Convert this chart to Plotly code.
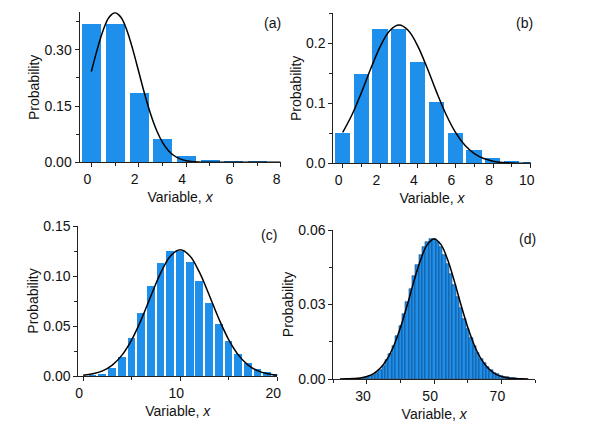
import plotly.graph_objects as go
from plotly.subplots import make_subplots

# ---------------- data ----------------
# (a)
a_k = [0, 1, 2, 3, 4, 5, 6, 7]
a_p = [0.368, 0.368, 0.184, 0.061, 0.015, 0.003, 0.0005, 0.0001]
a_cx = [0, 0.25, 0.5, 0.75, 1, 1.25, 1.5, 1.75, 2, 2.25, 2.5, 2.75, 3, 3.25, 3.5, 3.75, 4, 4.5, 5, 6, 7, 8]
a_cy = [0.2420, 0.3011, 0.3521, 0.3867, 0.3989, 0.3867, 0.3521, 0.3011, 0.2420, 0.1826, 0.1295,
        0.0863, 0.0540, 0.0317, 0.0175, 0.0091, 0.0044, 0.0009, 0.0001, 0, 0, 0]

# (b)
b_k = [0, 1, 2, 3, 4, 5, 6, 7, 8, 9, 10]
b_p = [0.050, 0.149, 0.224, 0.224, 0.168, 0.101, 0.050, 0.022, 0.008, 0.003, 0.001]
b_cx = [0, 0.5, 1, 1.5, 2, 2.5, 3, 3.5, 4, 4.5, 5, 5.5, 6, 6.5, 7, 7.5, 8, 8.5, 9, 9.5, 10]
b_cy = [0.0514, 0.0813, 0.1182, 0.1583, 0.1950, 0.2209, 0.2303, 0.2209, 0.1950, 0.1583, 0.1182,
        0.0813, 0.0514, 0.0299, 0.0160, 0.0079, 0.0036, 0.0015, 0.0006, 0.0002, 0.0001]

# (c)
c_k = list(range(0, 21))
c_p = [0.0000, 0.0005, 0.0023, 0.0076, 0.0189, 0.0378, 0.0631, 0.0901, 0.1126, 0.1251, 0.1251,
       0.1137, 0.0948, 0.0729, 0.0521, 0.0347, 0.0217, 0.0128, 0.0071, 0.0037, 0.0019]
c_cx = list(range(0, 21))
c_cy = [0.00085, 0.0022, 0.0051, 0.0109, 0.0209, 0.0362, 0.0567, 0.0805, 0.1033, 0.1200, 0.1262,
        0.1200, 0.1033, 0.0805, 0.0567, 0.0362, 0.0209, 0.0109, 0.0051, 0.0022, 0.00085]

# (d)
d_k = list(range(26, 76))
d_p = [0.0001, 0.0001, 0.0002, 0.0004, 0.0007, 0.0011, 0.0017, 0.0026, 0.0038, 0.0054,
       0.0076, 0.0102, 0.0134, 0.0172, 0.0215, 0.0262, 0.0312, 0.0363, 0.0413, 0.0458,
       0.0498, 0.0530, 0.0552, 0.0563, 0.0563, 0.0552, 0.0531, 0.0501, 0.0464, 0.0422,
       0.0377, 0.0330, 0.0285, 0.0241, 0.0201, 0.0165, 0.0133, 0.0106, 0.0082, 0.0063,
       0.0048, 0.0036, 0.0026, 0.0019, 0.0014, 0.0010, 0.0007, 0.0005, 0.0003, 0.0002]
d_cx = [22, 24, 26, 28, 30, 32, 34, 36, 38, 40, 42, 44, 46, 48, 50,
        52, 54, 56, 58, 60, 62, 64, 66, 68, 70, 72, 74, 76, 78]
d_cy = [0.0000, 0.0001, 0.0002, 0.0004, 0.0010, 0.0022, 0.0044, 0.0080, 0.0134, 0.0208, 0.0298,
        0.0394, 0.0481, 0.0542, 0.0564, 0.0542, 0.0481, 0.0394, 0.0298, 0.0208, 0.0134, 0.0080,
        0.0044, 0.0022, 0.0010, 0.0004, 0.0002, 0.0001, 0.0000]

panel_labels = ["(a)", "(b)", "(c)", "(d)"]

# ---------------- figure ----------------
BLUE = "#1E8FEA"
FONT = "Arial, Liberation Sans, Helvetica, sans-serif"
AX = "#222222"

fig = make_subplots(rows=2, cols=2)

panels = [
    (a_k, a_p, a_cx, a_cy, 1, 1, 0.8, 0),
    (b_k, b_p, b_cx, b_cy, 1, 2, 0.8, 0),
    (c_k, c_p, c_cx, c_cy, 2, 1, 0.8, 0),
    (d_k, d_p, d_cx, d_cy, 2, 2, 1.0, 0.6),
]
for k, p, cx, cy, r, c, w, lw in panels:
    fig.add_trace(go.Bar(x=k, y=p, width=w, marker=dict(color=BLUE,
                         line=dict(color="#14467a", width=lw))), row=r, col=c)
    fig.add_trace(go.Scatter(x=cx, y=cy, mode="lines",
                             line=dict(color="black", width=1.5, shape="spline")),
                  row=r, col=c)

W, H = 592, 427
def dom(p0, p1, size):
    return [p0 / size, p1 / size]

boxes = {
    1: dict(x=(79.5, 280.7), y=(12.3, 162.3)),
    2: dict(x=(333.3, 530.7), y=(13.3, 163.3)),
    3: dict(x=(78.3, 277.3), y=(226, 376)),
    4: dict(x=(333.3, 535), y=(230, 379)),
}
xcfg = {
    1: dict(range=[-0.5, 8], tick0=0, dtick=2, minor=1),
    2: dict(range=[-0.5, 10], tick0=0, dtick=2, minor=1),
    3: dict(range=[-0.5, 20], tick0=0, dtick=10, minor=5),
    4: dict(range=[20, 80], tick0=30, dtick=20, minor=10),
}
ycfg = {
    1: dict(range=[0, 0.4], dtick=0.15, minor=0.075, fmt=".2f"),
    2: dict(range=[0, 0.25], dtick=0.1, minor=0.05, fmt=".1f"),
    3: dict(range=[0, 0.15], dtick=0.05, minor=0.025, fmt=".2f"),
    4: dict(range=[0, 0.06], dtick=0.03, minor=0.015, fmt=".2f"),
}

for i in range(1, 5):
    b = boxes[i]
    xs = "xaxis" if i == 1 else f"xaxis{i}"
    ys = "yaxis" if i == 1 else f"yaxis{i}"
    xc, yc = xcfg[i], ycfg[i]
    fig.layout[xs].update(
        domain=dom(b["x"][0], b["x"][1], W), automargin=False,
        range=xc["range"], tick0=xc["tick0"], dtick=xc["dtick"],
        showgrid=False, zeroline=False, showline=True, linecolor=AX, linewidth=1,
        ticks="outside", ticklen=4, tickcolor=AX, tickwidth=1,
        minor=dict(ticks="outside", ticklen=3, tickcolor=AX, dtick=xc["minor"], tick0=0, showgrid=False),
        tickfont=dict(family=FONT, size=14, color="#111"),
        ticklabelshift=-4,
        title=dict(text="Variable, <i>x</i>", font=dict(family=FONT, size=14, color="#111"), standoff=6),
    )
    fig.layout[ys].update(
        domain=[1 - b["y"][1] / H, 1 - b["y"][0] / H], automargin=False,
        range=yc["range"], tick0=0, dtick=yc["dtick"], tickformat=yc["fmt"],
        showgrid=False, zeroline=False, showline=True, linecolor=AX, linewidth=1,
        ticks="outside", ticklen=4, tickcolor=AX, tickwidth=1,
        minor=dict(ticks="outside", ticklen=3, tickcolor=AX, dtick=yc["minor"], tick0=0, showgrid=False),
        tickfont=dict(family=FONT, size=14, color="#111"),
        title=dict(text="Probability", font=dict(family=FONT, size=14, color="#111"), standoff=1),
    )

label_pos = [(0.96, 0.93), (0.971, 0.937), (0.958, 0.94), (0.964, 0.94)]
for i, (lab, (lx, ly)) in enumerate(zip(panel_labels, label_pos), start=1):
    suf = "" if i == 1 else str(i)
    fig.add_annotation(text=lab, x=lx, y=ly, xref=f"x{suf} domain", yref=f"y{suf} domain",
                       showarrow=False, font=dict(family=FONT, size=14, color="#111"),
                       xanchor="center", yanchor="middle")

fig.update_layout(
    width=W, height=H, margin=dict(l=0, r=0, t=0, b=0, autoexpand=False),
    paper_bgcolor="white", plot_bgcolor="white",
    showlegend=False, bargap=0,
)

fig.write_html("out.html", config={"displayModeBar": False},
               post_script="document.body.style.margin='0';document.body.style.padding='0';")
